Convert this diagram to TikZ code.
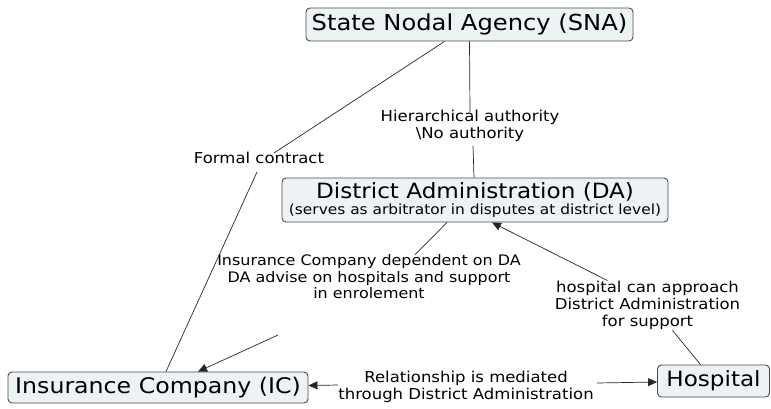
\documentclass[tikz,border=0pt]{standalone}
\usepackage{fontspec}
\setmainfont{DejaVu Sans}[FakeStretch=1.1]
\usetikzlibrary{arrows.meta,calc}
\definecolor{boxfill}{HTML}{EDF3F5}
\definecolor{boxline}{HTML}{4A4A4A}
\begin{document}
\begin{tikzpicture}[x=1pt,y=-1pt,
  box/.style={draw=boxline, fill=boxfill, rounded corners=4pt, line width=0.9pt,
              inner sep=0pt, align=center},
  lbl/.style={font=\fontsize{15}{17}\selectfont, align=center, inner sep=0pt},
  link/.style={draw=black!85, line width=0.7pt},
  arr/.style={link, -{Triangle[length=9pt,width=8pt]}}]
\useasboundingbox (0,0) rectangle (771,408);

% concept boxes
\node[box, minimum width=327pt, minimum height=33pt, font=\fontsize{22}{24}\selectfont]
  (sna) at (469.5,24.5) {State Nodal Agency (SNA)};
\node[box, minimum width=386pt, minimum height=44pt]
  (da) at (475,200) {{\fontsize{21}{22}\selectfont District Administration (DA)}\\[1pt]
                     {\fontsize{14}{15}\selectfont (serves as arbitrator in disputes at district level)}};
\node[box, minimum width=300pt, minimum height=31pt, font=\fontsize{21.5}{23}\selectfont]
  (ic) at (158,387.5) {Insurance Company (IC)};
\node[box, minimum width=112pt, minimum height=32pt, font=\fontsize{21}{23}\selectfont]
  (hosp) at (713.5,381) {Hospital};

% linking phrases
\node[lbl] (fc) at (259,158) {Formal contract};
\node[lbl] (ha) at (470,126) {Hierarchical authority\\\textbackslash No authority};
\node[lbl, font=\fontsize{14.5}{16.5}\selectfont] (dep) at (369,277)
  {Insurance Company dependent on DA\\DA advise on hospitals and support\\in enrolement};
\node[lbl] (hca) at (647.5,305) {hospital can approach\\District Administration\\for support};
\node[lbl] (rel) at (466,387) {Relationship is mediated\\through District Administration};

\coordinate (depout) at (278,335);

% connections
\draw[link] ([xshift=-25pt]sna.south) -- ([xshift=15pt,yshift=-1pt]fc.north);
\draw[link] ([xshift=-2pt,yshift=-8pt]fc.south) -- ([xshift=8pt]ic.north);
\draw[link] (sna.south) -- ([yshift=-2pt]ha.north);
\draw[link] ([xshift=3pt,yshift=-4pt]ha.south) -- ([xshift=-1pt]da.north);
\draw[link] ([xshift=-28pt]da.south) -- ([xshift=46pt]dep.north);
\draw[arr] (depout) -- ([xshift=40pt]ic.north);
\draw[link] ([xshift=-13pt]hosp.north) -- ([xshift=25pt,yshift=-1pt]hca.south);
\draw[arr] ([xshift=-40pt]hca.north) -- ([xshift=17pt]da.south);
\draw[arr] ([yshift=2pt]rel.west) -- ([yshift=2pt]ic.east);
\draw[arr] ([xshift=3pt,yshift=4pt]rel.east) -- ([yshift=-1pt]hosp.west);
\end{tikzpicture}
\end{document}
